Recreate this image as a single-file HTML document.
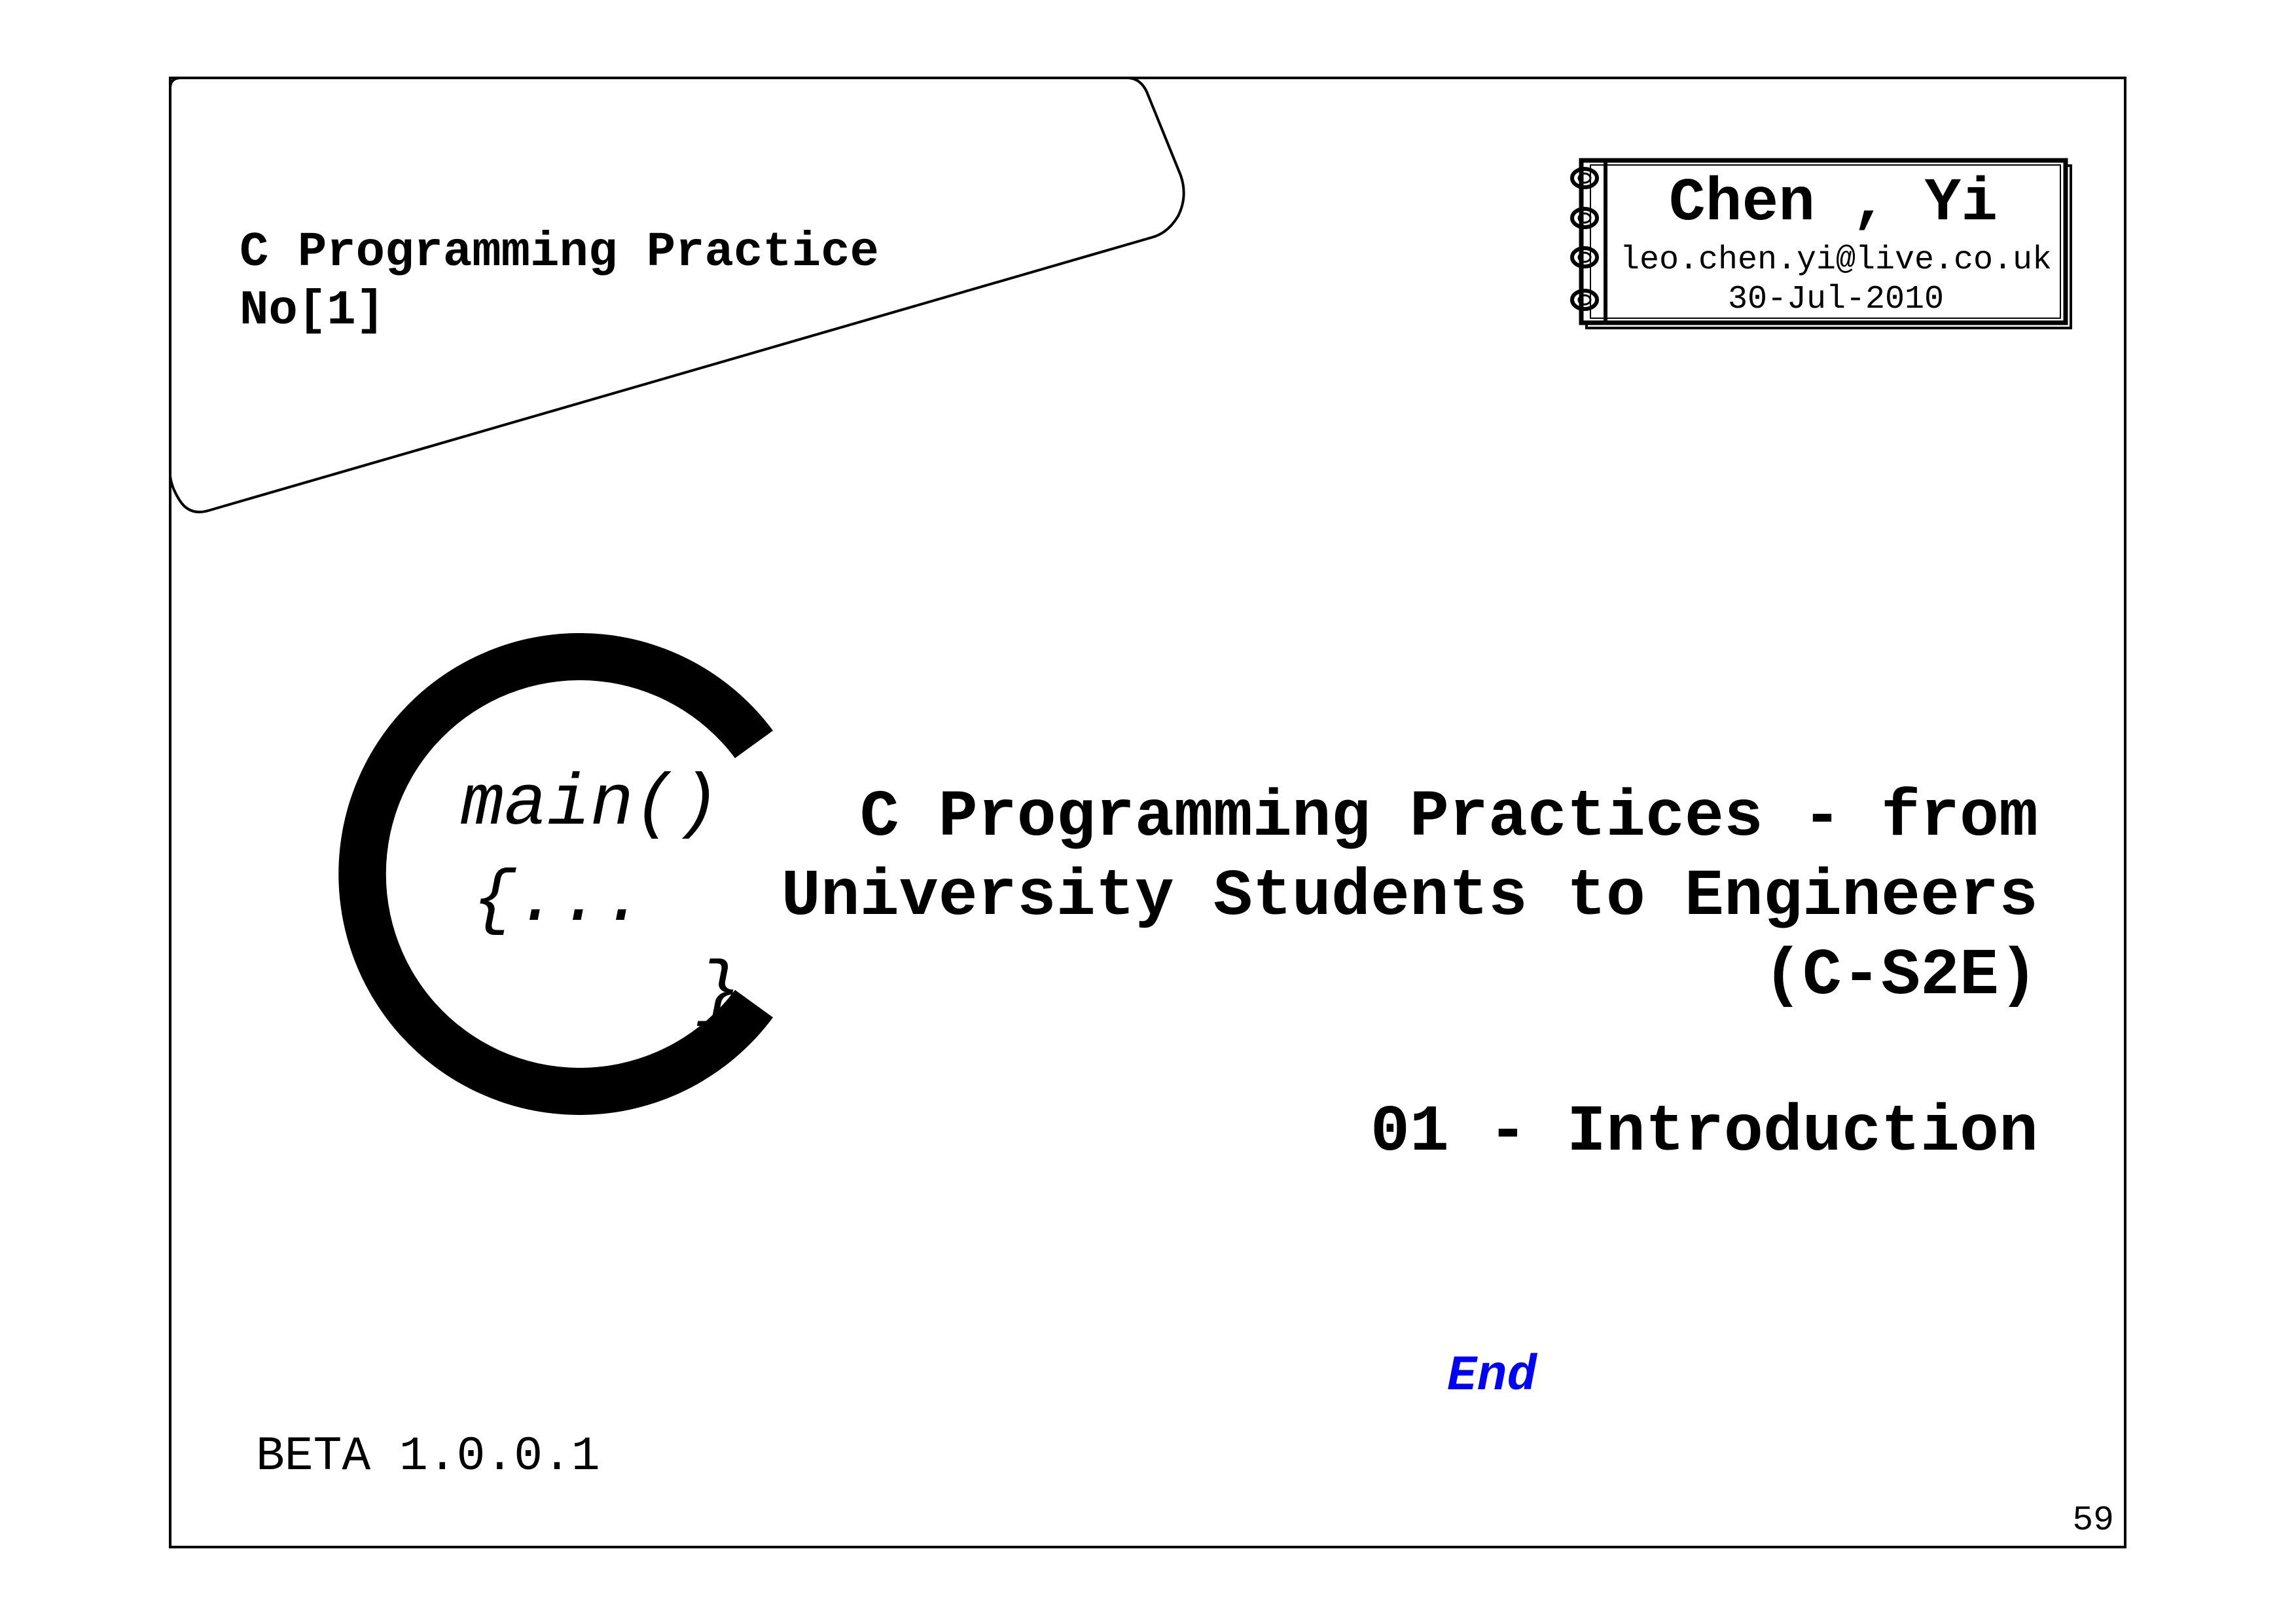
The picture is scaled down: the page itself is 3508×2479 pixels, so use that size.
<!DOCTYPE html>
<html><head><meta charset="utf-8"><style>
html,body{margin:0;padding:0;background:#fff;}
svg{display:block;}
text{font-family:"Liberation Mono","DejaVu Sans Mono",monospace;}
</style></head><body>
<svg width="3508" height="2479" viewBox="0 0 3508 2479" xmlns="http://www.w3.org/2000/svg">
<rect width="3508" height="2479" fill="#fff"/>
<rect x="260" y="119" width="2987" height="2244" fill="none" stroke="#000" stroke-width="4"/>
<path d="M260,135 Q260,119 276,119 L1722,119 Q1742,119 1752,140 L1804,268 Q1815,300 1800,330 Q1785,355 1762,362 L318,780 Q290,788 275,765 Q262,745 260,727 Z" fill="none" stroke="#000" stroke-width="4"/>
<text x="366" y="405" font-size="74" font-weight="bold">C Programming Practice</text>
<text x="366" y="494" font-size="74" font-weight="bold">No[1]</text>
<rect x="2424" y="253" width="740" height="248" fill="none" stroke="#000" stroke-width="4"/>
<rect x="2416" y="245" width="740" height="248" fill="#fff" stroke="#000" stroke-width="7"/>
<rect x="2430" y="252" width="718" height="234" fill="none" stroke="#000" stroke-width="2"/>
<line x1="2453" y1="248" x2="2453" y2="490" stroke="#000" stroke-width="6"/>
<g fill="none" stroke="#000">
<ellipse cx="2421" cy="272" rx="19" ry="14" stroke-width="6"/><ellipse cx="2421" cy="272" rx="9" ry="7" stroke-width="3"/>
<ellipse cx="2421" cy="333" rx="19" ry="14" stroke-width="6"/><ellipse cx="2421" cy="333" rx="9" ry="7" stroke-width="3"/>
<ellipse cx="2421" cy="393" rx="19" ry="14" stroke-width="6"/><ellipse cx="2421" cy="393" rx="9" ry="7" stroke-width="3"/>
<ellipse cx="2421" cy="458" rx="19" ry="14" stroke-width="6"/><ellipse cx="2421" cy="458" rx="9" ry="7" stroke-width="3"/>
</g>
<text x="2801" y="335" font-size="93" font-weight="bold" text-anchor="middle">Chen , Yi</text>
<text x="2805" y="410" font-size="50" text-anchor="middle">leo.chen.yi@live.co.uk</text>
<text x="2805" y="470" font-size="50" text-anchor="middle">30-Jul-2010</text>
<path d="M1181,1116 A368,368 0 1,0 1181,1554 L1123,1512 A296,296 0 1,1 1123,1158 Z" fill="#000"/>
<text x="704" y="1258" font-size="110" font-style="italic">main()</text>
<text x="722" y="1405" font-size="110" font-style="italic">{...</text>
<text x="1066" y="1544" font-size="110" font-style="italic">}</text>
<g font-size="100" font-weight="bold" text-anchor="end">
<text x="3114" y="1275">C Programming Practices - from</text>
<text x="3114" y="1396">University Students to Engineers</text>
<text x="3114" y="1517">(C-S2E)</text>
<text x="3114" y="1756">01 - Introduction</text>
</g>
<text x="2211" y="2122" font-size="76" font-weight="bold" font-style="italic" fill="#0000ff">End</text>
<text x="391" y="2244" font-size="73">BETA 1.0.0.1</text>
<text x="3230" y="2336" font-size="53" text-anchor="end">59</text>
</svg>
</body></html>
